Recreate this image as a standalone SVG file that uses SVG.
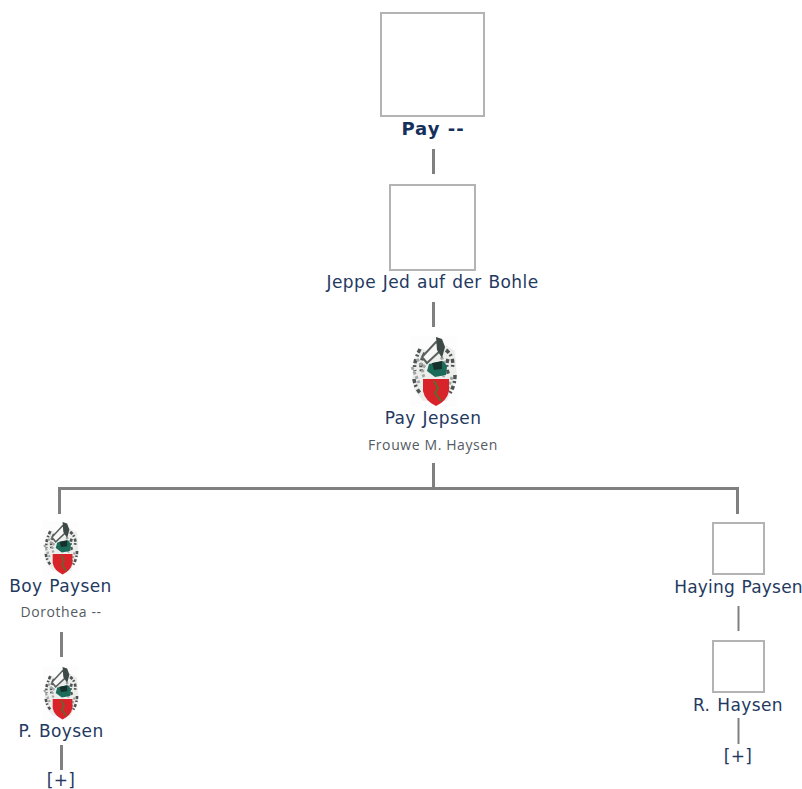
<svg xmlns="http://www.w3.org/2000/svg" width="802" height="789" viewBox="0 0 802 789">
<style>
text{font-family:"DejaVu Sans",Verdana,sans-serif;text-anchor:middle;fill:#24395f;font-size:17px;letter-spacing:.4px;word-spacing:1px}
.b{font-weight:bold;font-size:18px;fill:#16305c;letter-spacing:1px;word-spacing:0}
.s{font-size:14px;fill:#555b63;font-family:"Open Sans","DejaVu Sans",sans-serif;letter-spacing:.6px;word-spacing:0}
.n{letter-spacing:.2px}
.box{fill:#fff;stroke:#b3b3b3;stroke-width:2}
.c{fill:none;stroke:#808080;stroke-width:3}
.t{fill:none;stroke:#808080;stroke-width:2}
.m{fill:none;stroke:#4f5452;stroke-width:3.500;stroke-dasharray:4 2 2 3}
.m2{fill:none;stroke:#a2a6a4;stroke-width:3;stroke-dasharray:3 2}
</style>
<defs>
<g id="crest">
<rect x="5" y="3" width="47" height="71" fill="#fdfdfd"/>
<path d="M7 46 L10 24 L16 15 L24 19 L36 6 L40 12 L50 18 L52 44 L46 58 L42 68 H18 L10 58Z" fill="#eceeec"/>
<path class="m" d="M15 16 Q8 30 10 38 M20 20 Q14 30 17 40 M9 46 Q10 54 15 60 M41 17 Q50 24 47 36 M43 26 Q40 34 44 42 M50 42 Q50 52 45 60"/>
<path class="m2" d="M23 28 Q15 36 19 44 M7 34 L14 50 M36 24 Q44 34 38 44 M47 44 L42 58 M12 26 L18 34"/>
<path d="M17 24 L31 9 L36 12 L36 17 L22 30Z" fill="#f7f7f7" stroke="#5c605e" stroke-width="2"/>
<path d="M31 4 L37 6 L40 14 L37 25 L32 17Z" fill="#3d4a47"/>
<path d="M24 31 L38 28 L42 33 L41 42 L30 44 L22 38Z" fill="#1c6a5a"/>
<path d="M27 30 L37 28 L37 36 L29 37Z" fill="#16302c"/>
<path d="M18 46 H44 V58 Q42 68 31 73 Q20 68 18 58Z" fill="#d8232a"/>
<path d="M29 48 L33 55 L30 60 L36 68" fill="none" stroke="#5d6b2e" stroke-width="2"/>
</g>
</defs>
<g id="connectors">
<path class="c" d="M433.500 149V174M433.500 302V327M433.500 463V488M59.500 514V488.500H737.500V514M61.500 632V657M61.500 745V770"/>
<path class="t" d="M738.500 606V631M738.500 718V744"/>
</g>
<g id="node-pay"><rect class="box" x="381" y="13" width="103" height="103"/><text class="b" x="433" y="135">Pay --</text></g>
<g id="node-jeppe"><rect class="box" x="390" y="185" width="85" height="85"/><text x="432.500" y="288">Jeppe Jed auf der Bohle</text></g>
<g id="node-pay-jepsen"><use href="#crest" transform="translate(405 333)"/><text x="433" y="424">Pay Jepsen</text><text class="s" x="433" y="450">Frouwe M. Haysen</text></g>
<g id="node-boy"><use href="#crest" transform="translate(39 519) scale(.76)"/><text x="60.500" y="592">Boy Paysen</text><text class="s" x="61" y="617">Dorothea --</text></g>
<g id="node-p-boysen"><use href="#crest" transform="translate(39 664) scale(.76)"/><text x="61" y="737">P. Boysen</text></g>
<g id="node-more-left"><text x="61" y="786">[+]</text></g>
<g id="node-haying"><rect class="box" x="713" y="523" width="51" height="51"/><text class="n" x="738.500" y="593">Haying Paysen</text></g>
<g id="node-r-haysen"><rect class="box" x="713" y="641" width="51" height="51"/><text x="738" y="711">R. Haysen</text></g>
<g id="node-more-right"><text x="738" y="762">[+]</text></g>
</svg>
